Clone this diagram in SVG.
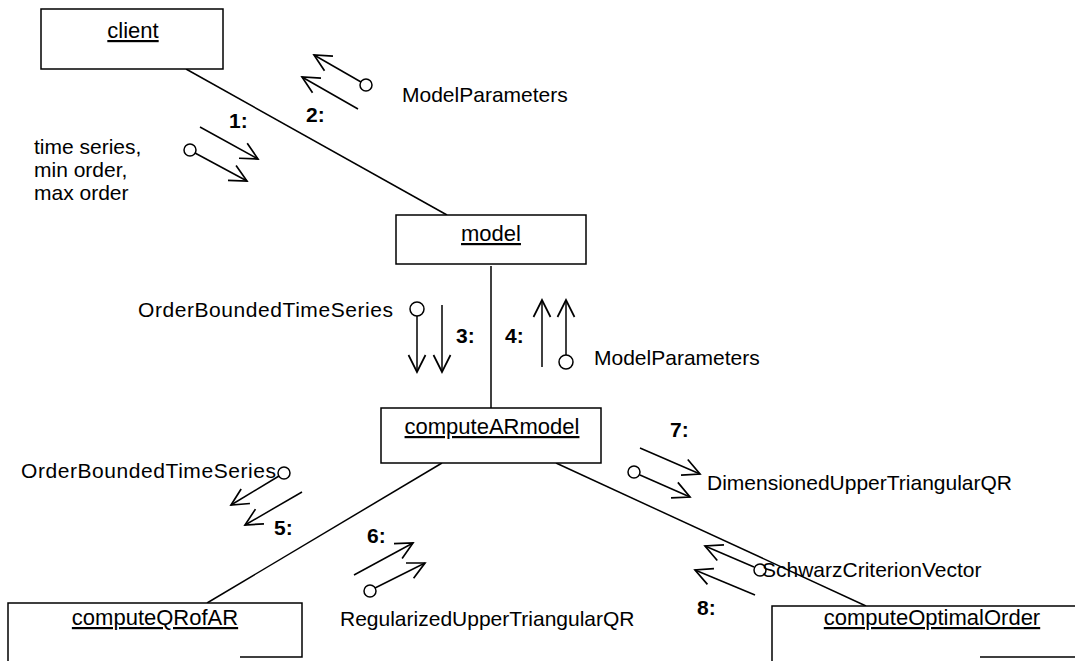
<svg xmlns="http://www.w3.org/2000/svg" width="1075" height="661" viewBox="0 0 1075 661">
<style>
.box{fill:#fff;stroke:#000;stroke-width:1.5}
.name{font-family:"Liberation Sans",Arial,sans-serif;font-size:22px;text-anchor:middle;text-decoration:underline}
.lbl{font-family:"Liberation Sans",Arial,sans-serif;font-size:21px}
.num{font-family:"Liberation Sans",Arial,sans-serif;font-size:21px;font-weight:bold}
.link{stroke:#000;stroke-width:1.5;fill:none}
.msg{stroke:#000;stroke-width:1.5;fill:none;marker-end:url(#v)}
.dot{fill:#fff;stroke:#000;stroke-width:1.5}
</style>
<defs>
<marker id="v" viewBox="-20 -12 24 24" refX="0" refY="0" markerWidth="24" markerHeight="24" orient="auto" markerUnits="userSpaceOnUse">
<path d="M-17,-8.5 L0,0 L-17,8.5" fill="none" stroke="#000" stroke-width="1.7"/>
</marker>
</defs>
<rect width="1075" height="661" fill="#fff"/>
<g id="connectors">
<line class="link" x1="186" y1="69" x2="447" y2="215"/>
<line class="link" x1="491" y1="266" x2="491" y2="408"/>
<line class="link" x1="442" y1="463" x2="207" y2="603"/>
<line class="link" x1="556" y1="463" x2="866" y2="606"/>
</g>
<g id="node-client">
<rect class="box" x="41" y="9" width="182" height="60"/>
<text class="name" x="133" y="38">client</text>
</g>
<g id="node-model">
<rect class="box" x="396" y="215" width="190" height="49"/>
<text class="name" x="491" y="241">model</text>
</g>
<g id="node-computeARmodel">
<rect class="box" x="381" y="408" width="220" height="55"/>
<text class="name" x="492" y="434">computeARmodel</text>
</g>
<g id="node-computeQRofAR">
<path class="box" d="M8,665 L8,603 L302,603 L302,657 L240,657" fill="none"/>
<text class="name" x="155" y="625">computeQRofAR</text>
</g>
<g id="node-computeOptimalOrder">
<path class="box" d="M772,665 L772,606 L1080,606 M980,657 L1080,657" fill="none"/>
<text class="name" x="932" y="625">computeOptimalOrder</text>
</g>
<g id="messages">
<!-- 1 -->
<line class="msg" x1="200" y1="127" x2="258" y2="159"/>
<circle class="dot" cx="190" cy="150" r="6"/>
<line class="msg" x1="195" y1="153" x2="247" y2="181"/>
<text class="num" x="229" y="128">1:</text>
<text class="lbl" x="34" y="154">time series,</text>
<text class="lbl" x="34" y="177">min order,</text>
<text class="lbl" x="34" y="200">max order</text>
<!-- 2 -->
<circle class="dot" cx="366" cy="85" r="6"/>
<line class="msg" x1="361" y1="82" x2="314" y2="55"/>
<line class="msg" x1="358" y1="109" x2="302" y2="77"/>
<text class="num" x="306" y="122">2:</text>
<text class="lbl" x="402" y="102">ModelParameters</text>
<!-- 3 -->
<circle class="dot" cx="417" cy="309" r="7"/>
<line class="msg" x1="417" y1="316" x2="417" y2="372"/>
<line class="msg" x1="442" y1="305" x2="442" y2="372"/>
<text class="num" x="456" y="343">3:</text>
<text class="lbl" x="393" y="317" text-anchor="end" textLength="255">OrderBoundedTimeSeries</text>
<!-- 4 -->
<line class="msg" x1="542" y1="367" x2="542" y2="300"/>
<circle class="dot" cx="566" cy="362" r="7"/>
<line class="msg" x1="566" y1="355" x2="566" y2="300"/>
<text class="num" x="505" y="343">4:</text>
<text class="lbl" x="594" y="365">ModelParameters</text>
<!-- 5 -->
<circle class="dot" cx="284" cy="473" r="6"/>
<line class="msg" x1="279" y1="476" x2="231" y2="505"/>
<line class="msg" x1="302" y1="492" x2="245" y2="525"/>
<text class="num" x="274" y="535">5:</text>
<text class="lbl" x="21" y="478" textLength="255">OrderBoundedTimeSeries</text>
<!-- 6 -->
<line class="msg" x1="354" y1="575" x2="413" y2="543"/>
<circle class="dot" cx="370" cy="591" r="6"/>
<line class="msg" x1="375" y1="588" x2="425" y2="563"/>
<text class="num" x="367" y="543">6:</text>
<text class="lbl" x="340" y="626">RegularizedUpperTriangularQR</text>
<!-- 7 -->
<line class="msg" x1="640" y1="448" x2="700" y2="474"/>
<circle class="dot" cx="634" cy="472" r="6"/>
<line class="msg" x1="640" y1="475" x2="690" y2="497"/>
<text class="num" x="670" y="437">7:</text>
<text class="lbl" x="707" y="490">DimensionedUpperTriangularQR</text>
<!-- 8 -->
<circle class="dot" cx="760" cy="570" r="6"/>
<line class="msg" x1="754" y1="567" x2="705" y2="546"/>
<line class="msg" x1="755" y1="595" x2="695" y2="570"/>
<text class="num" x="697" y="615">8:</text>
<text class="lbl" x="762" y="577">SchwarzCriterionVector</text>
</g>
</svg>
